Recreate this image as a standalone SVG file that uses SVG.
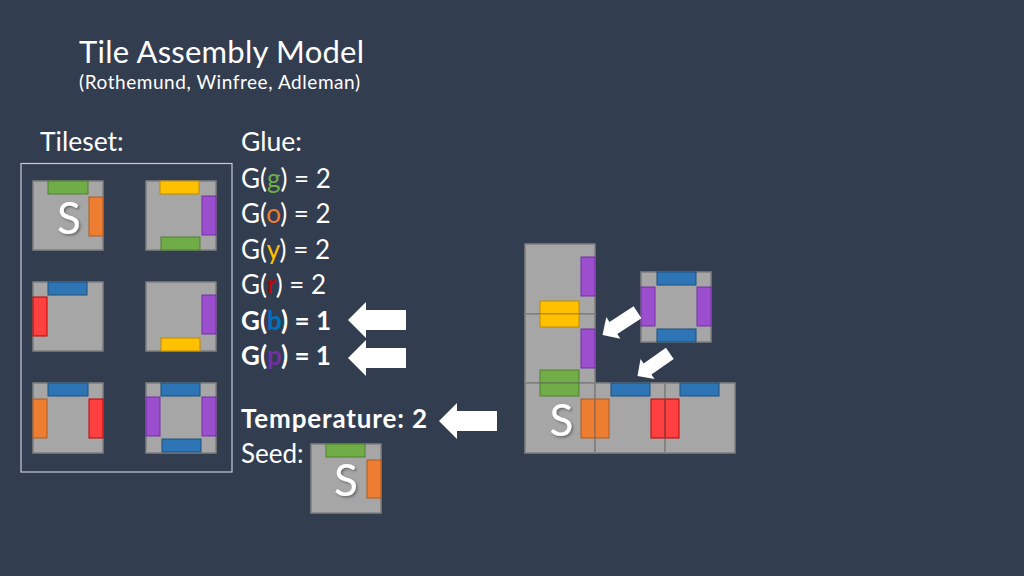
<svg xmlns="http://www.w3.org/2000/svg" width="1024" height="576" viewBox="0 0 1024 576">
<defs>
<style>
text{font-family:Lato,"Open Sans","Liberation Sans",sans-serif;fill:#FFFFFF}
.tile{fill:#A6A6A6;stroke:#7F7F7F;stroke-width:1.5}
.gg{fill:#70AD47;stroke:#507E32;stroke-width:1}
.go{fill:#ED7D31;stroke:#AE5A21;stroke-width:1}
.gy{fill:#FFC000;stroke:#BC8C00;stroke-width:1}
.gr{fill:#FF4040;stroke:#C00000;stroke-width:1}
.gb{fill:#2E75B6;stroke:#1F4E79;stroke-width:1}
.gp{fill:#9B4FCF;stroke:#7030A0;stroke-width:1}
.s{font-size:44px;text-anchor:middle;filter:url(#sh)}
.arrow{fill:#FFFFFF}
.glue{font-size:26px}
.b{font-weight:bold}
</style>
<filter id="sh" x="-20%" y="-20%" width="150%" height="150%">
<feDropShadow dx="1.5" dy="1.5" stdDeviation="1" flood-color="#404040" flood-opacity="0.6"/>
</filter>
<path id="arr" d="M0,0 L18,-18 L18,-10 L58,-10 L58,10 L18,10 L18,18 Z"/>
</defs>
<rect width="1024" height="576" fill="#333D50"/>

<g id="title">
<text x="79" y="63" font-size="31" textLength="285" lengthAdjust="spacing">Tile Assembly Model</text>
<text x="79" y="89" font-size="19" textLength="281" lengthAdjust="spacing">(Rothemund, Winfree, Adleman)</text>
</g>

<g id="labels">
<text x="40" y="151" font-size="26.5">Tileset:</text>
<text x="241" y="151" font-size="26.5">Glue:</text>
<text class="glue" x="241" y="188">G(<tspan fill="#70AD47">g</tspan>) = 2</text>
<text class="glue" x="241" y="223">G(<tspan fill="#ED7D31">o</tspan>) = 2</text>
<text class="glue" x="241" y="258.5">G(<tspan fill="#FFC000">y</tspan>) = 2</text>
<text class="glue" x="241" y="294">G(<tspan fill="#C00000">r</tspan>) = 2</text>
<text class="glue b" x="241" y="329.5">G(<tspan fill="#0070C0">b</tspan>) = 1</text>
<text class="glue b" x="241" y="365">G(<tspan fill="#7030A0">p</tspan>) = 1</text>
<text class="glue b" x="241" y="428" textLength="186" lengthAdjust="spacing">Temperature: 2</text>
<text class="glue" x="241" y="463">Seed:</text>
</g>

<rect id="tileset-box" x="21" y="163.5" width="211" height="308.5" fill="none" stroke="#C9CED6" stroke-width="1.2"/>

<g id="tileset-t1" transform="translate(33,181)">
<rect class="tile" width="70" height="69"/>
<rect class="gg" x="15" y="0" width="40" height="13"/>
<rect class="go" x="56" y="16" width="14" height="39"/>
<text class="s" x="36" y="53">S</text>
</g>
<g id="tileset-t2" transform="translate(146,181)">
<rect class="tile" width="70" height="69"/>
<rect class="gy" x="14" y="0" width="39" height="13"/>
<rect class="gp" x="56" y="15" width="14" height="39"/>
<rect class="gg" x="15" y="56" width="39" height="13"/>
</g>
<g id="tileset-t3" transform="translate(33,282)">
<rect class="tile" width="70" height="69"/>
<rect class="gb" x="15" y="0" width="39" height="13"/>
<rect class="gr" x="0" y="15" width="14" height="39"/>
</g>
<g id="tileset-t4" transform="translate(146,282)">
<rect class="tile" width="70" height="69"/>
<rect class="gp" x="56" y="13" width="14" height="39"/>
<rect class="gy" x="15" y="56" width="39" height="13"/>
</g>
<g id="tileset-t5" transform="translate(33,383)">
<rect class="tile" width="70" height="70"/>
<rect class="gb" x="15" y="0" width="40" height="13"/>
<rect class="go" x="0" y="16" width="14" height="39"/>
<rect class="gr" x="56" y="16" width="14" height="39"/>
</g>
<g id="tileset-t6" transform="translate(146,383)">
<rect class="tile" width="70" height="70"/>
<rect class="gb" x="15" y="0" width="39" height="13"/>
<rect class="gp" x="0" y="14" width="14" height="39"/>
<rect class="gp" x="56" y="14" width="14" height="39"/>
<rect class="gb" x="16" y="56" width="39" height="13"/>
</g>

<g id="seed" transform="translate(311,444)">
<rect class="tile" width="70" height="69"/>
<rect class="gg" x="15" y="0" width="39" height="13"/>
<rect class="go" x="56" y="16" width="14" height="38"/>
<text class="s" x="35" y="52">S</text>
</g>

<g id="asm-top" transform="translate(525,244)">
<rect class="tile" width="70" height="70"/>
<rect class="gp" x="56" y="13" width="14" height="39"/>
<rect class="gy" x="15" y="57" width="39" height="13"/>
</g>
<g id="asm-mid" transform="translate(525,314)">
<rect class="tile" width="70" height="69"/>
<rect class="gy" x="15" y="0" width="39" height="13"/>
<rect class="gp" x="56" y="15" width="14" height="39"/>
<rect class="gg" x="15" y="56" width="39" height="13"/>
</g>
<g id="asm-seed" transform="translate(525,383)">
<rect class="tile" width="70" height="70"/>
<rect class="gg" x="15" y="0" width="39" height="13"/>
<rect class="go" x="56" y="16" width="14" height="39"/>
<text class="s" x="36.5" y="53">S</text>
</g>
<g id="asm-t5" transform="translate(595,383)">
<rect class="tile" width="70" height="70"/>
<rect class="gb" x="16" y="0" width="39" height="13"/>
<rect class="go" x="0" y="16" width="14" height="39"/>
<rect class="gr" x="56" y="16" width="14" height="39"/>
</g>
<g id="asm-t3" transform="translate(665,383)">
<rect class="tile" width="70" height="70"/>
<rect class="gb" x="15" y="0" width="39" height="13"/>
<rect class="gr" x="0" y="16" width="14" height="39"/>
</g>
<g id="floating-t6" transform="translate(641,272)">
<rect class="tile" width="70" height="70"/>
<rect class="gb" x="16" y="0" width="39" height="13"/>
<rect class="gp" x="0" y="15" width="14" height="39"/>
<rect class="gp" x="56" y="15" width="14" height="39"/>
<rect class="gb" x="16" y="57" width="39" height="13"/>
</g>

<g id="connectors">
<use href="#arr" class="arrow" transform="translate(348,320)"/>
<use href="#arr" class="arrow" transform="translate(348,358)"/>
<use href="#arr" class="arrow" transform="translate(439,421)"/>
<use href="#arr" class="arrow" transform="translate(602.5,335) rotate(-33) scale(0.72)"/>
<use href="#arr" class="arrow" transform="translate(637.5,376) rotate(-35) scale(0.68)"/>
</g>
</svg>
